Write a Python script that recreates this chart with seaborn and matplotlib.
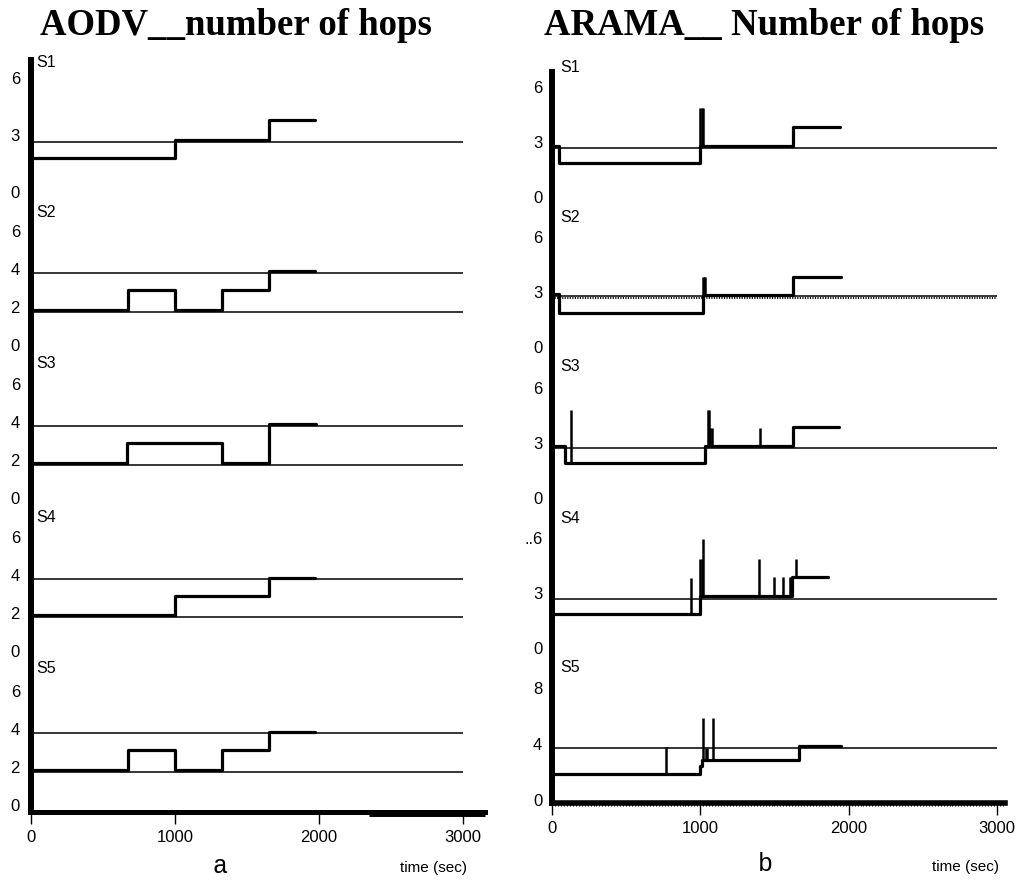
import numpy as np
import pandas as pd
import matplotlib
matplotlib.use("Agg")
import matplotlib.pyplot as plt
from matplotlib.ticker import MultipleLocator
import seaborn as sns

sns.set_theme(style="white")
plt.rcParams['font.family'] = ['Liberation Sans', 'DejaVu Sans']
plt.rcParams['text.color'] = 'black'

# ---------------- data ----------------
strips = ["S1", "S2", "S3", "S4", "S5"]
x_ticks = [0, 1000, 2000, 3000]
x_ticklabels = ["0", "1000", "2000", "3000"]

# AODV (panel a): step change times (sec) and hop counts per strip
aodv_t = [
    [0, 1000, 1650, 1975],
    [0, 675, 1000, 1325, 1650, 1975],
    [0, 670, 1325, 1650, 1980],
    [0, 1000, 1650, 1975],
    [0, 675, 1000, 1325, 1650, 1975],
]
aodv_hops = [
    [1.8, 2.75, 3.8, 3.8],
    [1.85, 2.9, 1.85, 2.9, 3.9, 3.9],
    [1.85, 2.9, 1.85, 3.9, 3.9],
    [1.9, 2.9, 3.85, 3.85],
    [1.85, 2.9, 1.85, 2.9, 3.85, 3.85],
]
aodv_ref = [[2.65], [1.75, 3.8], [1.75, 3.8], [1.8, 3.8], [1.75, 3.8]]
aodv_yticks = [[0, 3, 6], [0, 2, 4, 6], [0, 2, 4, 6], [0, 2, 4, 6], [0, 2, 4, 6]]
aodv_yticklabels = [["0", "3", "6"], ["0", "2", "4", "6"], ["0", "2", "4", "6"],
                    ["0", "2", "4", "6"], ["0", "2", "4", "6"]]
aodv_spike_t = [[], [], [], [], []]
aodv_spike_top = [[], [], [], [], []]

# ARAMA (panel b)
arama_t = [
    [0, 47, 1000, 1625, 1940],
    [0, 47, 1015, 1625, 1945],
    [0, 85, 1030, 1625, 1935],
    [0, 998, 1620, 1860],
    [0, 998, 1010, 1665, 1945],
]
arama_hops = [
    [2.8, 1.86, 2.79, 3.85, 3.85],
    [2.9, 1.86, 2.84, 3.85, 3.85],
    [2.86, 1.9, 2.86, 3.9, 3.9],
    [1.86, 2.84, 3.88, 3.88],
    [1.86, 2.4, 2.86, 3.86, 3.86],
]
arama_spike_t = [
    [1000, 1008, 1016],
    [1015, 1022, 1030],
    [126, 1050, 1058, 1068, 1078, 1400],
    [937, 998, 1010, 1018, 1396, 1497, 1557, 1605, 1645],
    [769, 1020, 1035, 1045, 1085],
]
arama_spike_top = [
    [4.86, 4.86, 4.86],
    [3.83, 3.83, 3.83],
    [4.8, 4.8, 4.8, 3.84, 3.84, 3.84],
    [3.8, 4.86, 4.86, 5.95, 4.86, 3.88, 3.88, 3.88, 4.86],
    [3.8, 5.86, 3.7, 3.7, 5.86],
]
arama_ref = [[2.68], [2.79], [2.74], [2.68], [3.7]]
arama_yticks = [[0, 3, 6], [0, 3, 6], [0, 3, 6], [0, 3, 6], [0, 4, 8]]
arama_yticklabels = [["0", "3", "6"], ["0", "3", "6"], ["0", "3", "6"],
                     ["0", "3", "..6"], ["0", "4", "8"]]

# ---------------- layout ----------------
W, H = 1019, 880
fig = plt.figure(figsize=(W / 100, H / 100), dpi=100)


def px_axes(x0, x1, y0, y1):
    return fig.add_axes([x0 / W, 1 - y1 / H, (x1 - x0) / W, (y1 - y0) / H])


panels = [
    dict(t=aodv_t, hops=aodv_hops, ref=aodv_ref, yt=aodv_yticks, ytl=aodv_yticklabels,
         st=aodv_spike_t, sv=aodv_spike_top,
         x0=31, x1=485, xmax=3153,
         bounds=[60, 192, 345, 498, 651, 812], zeros=[192, 345, 498, 651, 805],
         scale=[19, 19, 19, 19, 19], label_y=[6.8, 7.0, 7.1, 7.05, 7.16],
         label_x=40, ypad=8, xspine=3.6, minor=False, heavy_end=True),
    dict(t=arama_t, hops=arama_hops, ref=arama_ref, yt=arama_yticks, ytl=arama_yticklabels,
         st=arama_spike_t, sv=arama_spike_top,
         x0=552, x1=1005, xmax=3054,
         bounds=[72, 197, 347, 498, 648, 803], zeros=[197, 347, 498, 648, 800],
         scale=[18.3, 18.3, 18.3, 18.3, 14], label_y=[7.05, 7.05, 7.16, 7.1, 9.43],
         label_x=54, ypad=7, xspine=4.0, minor=True, heavy_end=False),
]

for pi, p in enumerate(panels):
    for i, name in enumerate(strips):
        top_px, bot_px = p['bounds'][i], p['bounds'][i + 1]
        ax = px_axes(p['x0'], p['x1'], top_px, bot_px)
        sc = p['scale'][i]
        z = p['zeros'][i]
        y_lo, y_hi = (z - bot_px) / sc, (z - top_px) / sc
        ax.set_ylim(y_lo, y_hi)
        ax.set_xlim(0, p['xmax'])
        ax.set_facecolor('none')

        # reference lines
        for r in p['ref'][i]:
            ax.hlines(r, 0, 3000, color='black', lw=1.1)
        if pi == 1 and i == 1:
            ax.hlines(p['ref'][i][0] - 0.09, 0, 3000, color='black', lw=1.3,
                      linestyles=(0, (0.7, 0.7)))

        # step data
        df = pd.DataFrame({'time': p['t'][i], 'hops': p['hops'][i]})
        sns.lineplot(data=df, x='time', y='hops', ax=ax, drawstyle='steps-post',
                     estimator=None, sort=False, color='black', linewidth=2.3)

        # spikes
        if len(p['st'][i]):
            tt = np.asarray(p['t'][i])
            vv = np.asarray(p['hops'][i])
            st = np.asarray(p['st'][i])
            base = vv[np.searchsorted(tt, st, side='right') - 1]
            ax.vlines(st, base, p['sv'][i], color='black', lw=1.8)

        ax.set_xlabel('')
        ax.set_ylabel('')

        # strip label
        ax.text(p['label_x'], p['label_y'][i], name, fontsize=11.5, ha='left',
                va='center', color='black', clip_on=False)

        # spines
        for s in ['top', 'right']:
            ax.spines[s].set_visible(False)
        ax.spines['left'].set_linewidth(4.3)
        ax.spines['left'].set_color('black')
        ax.set_yticks(p['yt'][i])
        ax.set_yticklabels(p['ytl'][i])
        ax.tick_params(axis='y', length=0, pad=p['ypad'], labelsize=12, labelcolor='black')

        if i < 4:
            ax.spines['bottom'].set_visible(False)
            ax.set_xticks([])
        else:
            ax.spines['bottom'].set_linewidth(p['xspine'])
            ax.spines['bottom'].set_color('black')
            ax.set_xticks(x_ticks)
            ax.set_xticklabels(x_ticklabels)
            ax.tick_params(axis='x', bottom=True, direction='out', length=8.6, width=1.0,
                           pad=4, labelsize=12, color='black', labelcolor='black')
            if p['minor']:
                ax.xaxis.set_minor_locator(MultipleLocator(20))
                ax.tick_params(axis='x', which='minor', bottom=True, direction='out',
                               length=2.5, width=0.8, color='black')
            if p['heavy_end']:
                # slightly heavier tail of the time axis as in the original plot
                ax.hlines(y_lo - 0.06, 2350, p['xmax'], color='black', lw=5.0,
                          clip_on=False)

# titles
fig.text(236 / W, 1 - 35 / H, "AODV__number of hops", family='Liberation Serif',
         fontweight='bold', fontsize=26.5, ha='center', va='baseline', color='black')
fig.text(764 / W, 1 - 35 / H, "ARAMA__ Number of hops", family='Liberation Serif',
         fontweight='bold', fontsize=26.5, ha='center', va='baseline', color='black')

# axis captions
fig.text(433 / W, 1 - 868 / H, "time (sec)", fontsize=11, ha='center', va='center')
fig.text(965 / W, 1 - 867 / H, "time (sec)", fontsize=11, ha='center', va='center')
fig.text(220 / W, 1 - 866 / H, "a", family='Liberation Mono', fontsize=18,
         ha='center', va='center')
fig.text(765 / W, 1 - 864 / H, "b", family='Liberation Mono', fontsize=18,
         ha='center', va='center')

fig.savefig("out.png", dpi=100)
